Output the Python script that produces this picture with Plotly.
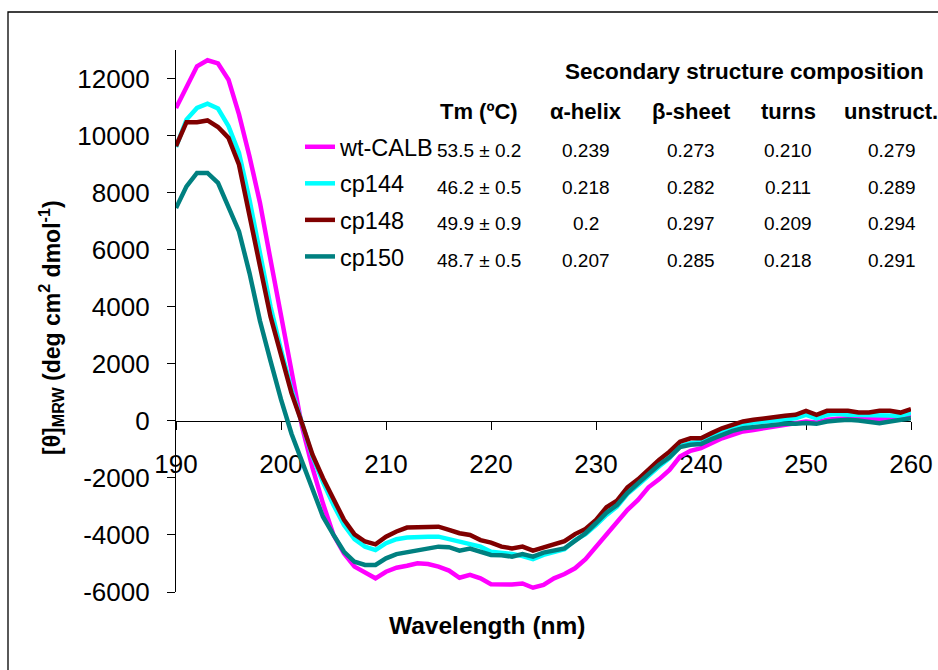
import plotly.graph_objects as go

# ---------------- data ----------------
wavelength = list(range(190, 261))

wt_calb = [10970, 11720, 12430, 12640, 12530, 11960, 10740, 9270, 7640, 5650,
           3660, 1670, -200, -1650, -2900, -4000, -4650, -5110, -5310, -5520,
           -5290, -5150, -5080, -4990, -5020, -5110, -5250, -5500, -5400, -5520,
           -5730, -5730, -5740, -5700, -5850, -5750, -5520, -5370, -5170, -4850,
           -4410, -4000, -3530, -3120, -2770, -2330, -2050, -1720, -1250, -1050,
           -960, -780, -610, -490, -370, -320, -260, -200, -140, -100,
           -20, -60, 35, 70, 90, 90, 60, 60, 120, 130,
           210]

cp144 = [9600, 10560, 10970, 11120, 10950, 10330, 9390, 7750, 5880, 4010,
         2490, 1090, -80, -1250, -2150, -2950, -3650, -4150, -4410, -4530,
         -4290, -4150, -4090, -4060, -4060, -4060, -4150, -4230, -4290, -4410,
         -4590, -4620, -4670, -4740, -4850, -4700, -4590, -4500, -4180, -3970,
         -3650, -3300, -3010, -2560, -2250, -1900, -1600, -1310, -880, -780,
         -730, -530, -370, -260, -120, -60, -20, 35, 60, 90,
         210, 90, 210, 245, 210, 210, 175, 175, 210, 175,
         280]

cp148 = [9630, 10470, 10470, 10530, 10300, 9920, 8980, 7290, 5420, 3660,
         2260, 970, -80, -1190, -2010, -2710, -3470, -3980, -4230, -4330,
         -4060, -3880, -3740, -3730, -3710, -3710, -3820, -3940, -4000, -4180,
         -4270, -4410, -4470, -4410, -4550, -4440, -4330, -4220, -3970, -3790,
         -3470, -3030, -2800, -2330, -2050, -1700, -1370, -1080, -730, -610,
         -610, -430, -260, -140, -20, 35, 90, 150, 175, 210,
         350, 210, 350, 350, 350, 290, 290, 350, 350, 290,
         410]

cp150 = [7460, 8220, 8690, 8690, 8340, 7520, 6640, 5180, 3500, 2100,
         750, -450, -1400, -2380, -3360, -4000, -4590, -4940, -5050, -5050,
         -4820, -4670, -4600, -4530, -4440, -4410, -4430, -4550, -4480, -4600,
         -4700, -4710, -4760, -4670, -4760, -4620, -4530, -4470, -4210, -3940,
         -3590, -3220, -2950, -2520, -2190, -1860, -1540, -1280, -920, -840,
         -810, -640, -490, -350, -260, -220, -180, -140, -105, -105,
         -80, -105, -25, 10, 35, 10, -25, -80, -25, 35,
         95]

series_names = ["wt-CALB", "cp144", "cp148", "cp150"]
series_colors = ["#FF00FF", "#00FFFF", "#800000", "#008080"]

table_title = "Secondary structure composition"
column_headers = ["Tm (ºC)", "α-helix", "β-sheet", "turns", "unstruct."]
tm_values = ["53.5 ± 0.2", "46.2 ± 0.5", "49.9 ± 0.9", "48.7 ± 0.5"]
alpha_helix = ["0.239", "0.218", "0.2", "0.207"]
beta_sheet = ["0.273", "0.282", "0.297", "0.285"]
turns = ["0.210", "0.211", "0.209", "0.218"]
unstruct = ["0.279", "0.289", "0.294", "0.291"]

x_ticks = [190, 200, 210, 220, 230, 240, 250, 260]
y_ticks = [-6000, -4000, -2000, 0, 2000, 4000, 6000, 8000, 10000, 12000]

# ---------------- layout geometry ----------------
W, H = 938, 670
PLOT_L, PLOT_T = 176, 50      # plot area position on the page
PW, PH = 735, 542
L, T = PLOT_L, PLOT_T
R, B = W - L - PW, H - T - PH
Y_MIN, Y_MAX = -6000, 13000
FONT = "Liberation Sans, Arial, sans-serif"


def px_x(px):
    return (px - PLOT_L) / PW


def px_y(py):
    return (PLOT_T + PH - py) / PH


fig = go.Figure()
all_series = [wt_calb, cp144, cp148, cp150]
for name, color, vals in zip(series_names, series_colors, all_series):
    fig.add_trace(go.Scatter(
        x=wavelength, y=vals, mode="lines", name=name,
        legendgroup=name,
        line=dict(color=color, width=4.5),
    ))

annotations = []
annotations.append(dict(text="<b>" + table_title + "</b>", x=px_x(744), y=px_y(71),
                        xref="paper", yref="paper", xanchor="center", yanchor="middle",
                        showarrow=False, font=dict(size=22.5, color="black", family=FONT)))
col_x = [479, 586, 691, 788, 891]
for cx, hdr in zip(col_x, column_headers):
    annotations.append(dict(text="<b>" + hdr + "</b>", x=px_x(cx), y=px_y(111),
                            xref="paper", yref="paper", xanchor="center", yanchor="middle",
                            showarrow=False, font=dict(size=22, color="black", family=FONT)))
row_y = [150, 187, 223, 260]
val_x = [479, 586, 691, 788, 892]
columns = [tm_values, alpha_helix, beta_sheet, turns, unstruct]
for cx, col in zip(val_x, columns):
    for ry, val in zip(row_y, col):
        annotations.append(dict(text=val, x=px_x(cx), y=px_y(ry),
                                xref="paper", yref="paper", xanchor="center", yanchor="middle",
                                showarrow=False, font=dict(size=19, color="black", family=FONT)))

annotations.append(dict(text="<b>Wavelength (nm)</b>", x=px_x(487), y=px_y(625),
                        xref="paper", yref="paper", xanchor="center", yanchor="middle",
                        showarrow=False, font=dict(size=24.5, color="black", family=FONT)))
annotations.append(dict(text="<b>[θ]<sub>MRW</sub> (deg cm<sup>2</sup> dmol<sup>-1</sup>)</b>",
                        x=px_x(51), y=px_y(328), textangle=-90,
                        xref="paper", yref="paper", xanchor="center", yanchor="middle",
                        showarrow=False, font=dict(size=23, color="black", family=FONT)))

fig.update_layout(
    width=W, height=H,
    margin=dict(l=L, r=R, t=T, b=B, pad=0, autoexpand=False),
    paper_bgcolor="white", plot_bgcolor="white",
    font=dict(family=FONT, color="black"),
    showlegend=True,
    legend=dict(x=px_x(300), y=px_y(125), xanchor="left", yanchor="top",
                xref="paper", yref="paper",
                bgcolor="rgba(0,0,0,0)", borderwidth=0,
                font=dict(size=23.5, color="black", family=FONT),
                traceorder="grouped", tracegroupgap=3),
    annotations=annotations,
    shapes=[dict(type="rect", xref="paper", yref="paper",
                 x0=px_x(8), x1=px_x(1000), y0=px_y(720), y1=px_y(12),
                 line=dict(color="black", width=1.3), fillcolor="rgba(0,0,0,0)",
                 layer="below")],
)

fig.update_xaxes(
    range=[190, 260], tickvals=x_ticks, ticktext=[str(v) for v in x_ticks],
    showgrid=False, zeroline=False, showline=True, linecolor="black", linewidth=1.3,
    ticks="outside", ticklen=8, tickwidth=1.3, tickcolor="black",
    tickfont=dict(size=26, color="black", family=FONT),
    anchor="free", position=(0 - Y_MIN) / (Y_MAX - Y_MIN),
    ticklabelstandoff=12, layer="below traces", automargin=False,
)
fig.update_yaxes(
    range=[Y_MIN, Y_MAX], tickvals=y_ticks, ticktext=[str(v) for v in y_ticks],
    domain=[0, 1],
    showgrid=False, zeroline=False, showline=True, linecolor="black", linewidth=1.3,
    ticks="outside", ticklen=8, tickwidth=1.3, tickcolor="black",
    tickfont=dict(size=26, color="black", family=FONT),
    ticklabelstandoff=12, layer="below traces", automargin=False,
)

page_css = ("document.body.style.margin='0';"
            "document.body.style.overflow='hidden';"
            "document.documentElement.style.overflow='hidden';")
fig.write_html("out.html", post_script=page_css,
               config={"displayModeBar": False, "staticPlot": False})
